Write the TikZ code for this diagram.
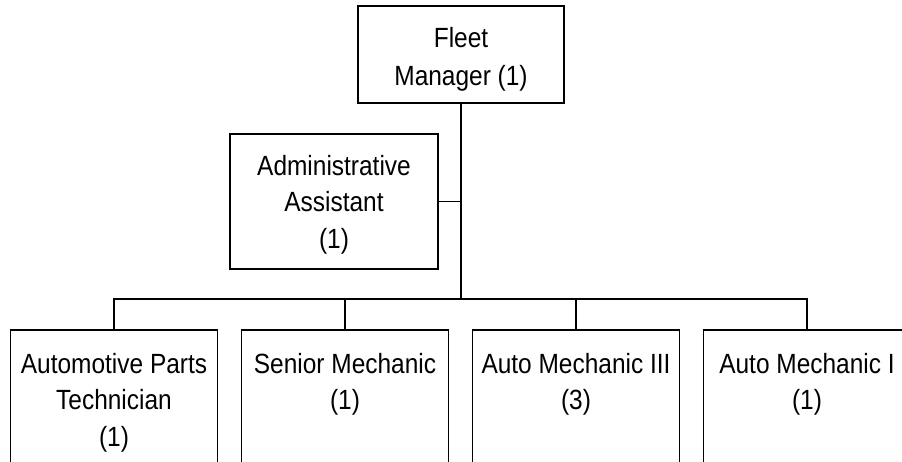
\documentclass[tikz,border=0pt]{standalone}
\usepackage{fontspec}
\setmainfont{Liberation Sans}[FakeStretch=0.88]
\begin{document}
\begin{tikzpicture}[x=1pt,y=-1pt,
  box/.style={draw=black,line width=1.7pt,rectangle,inner sep=0pt},
  txt/.style={inner sep=0pt,align=center,anchor=north,text=black,font=\fontsize{27.8}{36.5}\selectfont},
  conn/.style={draw=black,line width=1.7pt}]
\useasboundingbox (0,0) rectangle (902,461);
\clip (0,0) rectangle (902,461);
% boxes
\node[box,minimum width=206pt,minimum height=97pt] (fm) at (461,54.5) {};
\node[box,minimum width=208pt,minimum height=135pt] (aa) at (334,201.5) {};
\node[box,minimum width=207pt,minimum height=200pt,anchor=north] (b1) at (114,329) {};
\node[box,minimum width=207pt,minimum height=200pt,anchor=north] (b2) at (345,329) {};
\node[box,minimum width=207pt,minimum height=200pt,anchor=north] (b3) at (576,329) {};
\node[box,minimum width=207pt,minimum height=200pt,anchor=north] (b4) at (807,329) {};
% texts
\node[txt,font=\fontsize{27.8}{37.5}\selectfont] (fmt) at (461,21.05) {\strut Fleet\\Manager (1)};
\node[txt] (aat) at (334,149.45) {\strut Administrative\\Assistant\\(1)};
\node[txt] (b1t) at (114,347.45) {\strut Automotive Parts\\Technician\\(1)};
\node[txt] (b2t) at (345,347.45) {\strut Senior Mechanic\\(1)};
\node[txt] (b3t) at (576,347.45) {\strut Auto Mechanic III\\(3)};
\node[txt] (b4t) at (807,347.45) {\strut Auto Mechanic I\\(1)};
% connectors
\coordinate (bus) at (461,299);
\draw[conn] (fm.south) -- (bus);
\draw[conn] (aa.east) -- (aa.east -| fm.south);
\draw[conn] (b1.north) |- (bus) -| (b4.north);
\draw[conn] (b2.north) -- (b2.north |- bus);
\draw[conn] (b3.north) -- (b3.north |- bus);
\end{tikzpicture}
\end{document}
